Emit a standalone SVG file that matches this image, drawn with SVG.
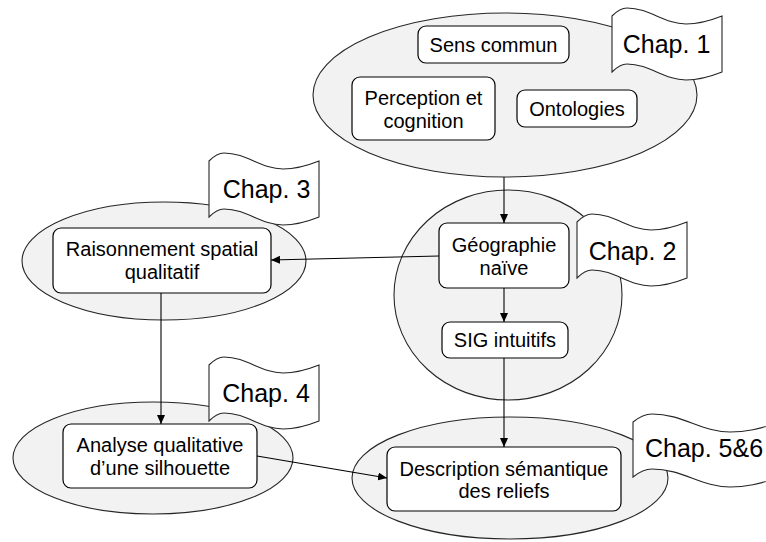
<svg xmlns="http://www.w3.org/2000/svg" width="766" height="542" viewBox="0 0 766 542">
<defs>
<style>
.cluster{fill:#f2f2f2;stroke:#262626;stroke-width:1.1}
.flag{fill:#fff;stroke:#262626;stroke-width:1.1}
.box{fill:#fff;stroke:#000;stroke-width:1.2}
.t{font-family:"Liberation Sans",Arial,sans-serif;font-size:20px;fill:#000;text-anchor:middle}
.ft{font-family:"Liberation Sans",Arial,sans-serif;font-size:25px;fill:#000;text-anchor:middle}
.edge{stroke:#000;stroke-width:1.1;fill:none;marker-end:url(#ah)}
</style>
<marker id="ah" markerWidth="10" markerHeight="8" refX="9" refY="4" orient="auto" markerUnits="userSpaceOnUse"><path d="M0,0 L9,4 L0,8 z" fill="#000"/></marker>
<path id="flag" d="M0,0 C4,-4 9,-8 15,-8 C38,-8 52,8 74,8 C88,8 100,4 110,0 L110,56 C100,60 88,64 74,64 C52,64 38,48 15,48 C9,48 4,52 0,56 Z"/>
<path id="flagWide" d="M0,0 C5,-4 11,-8 19,-8 C50,-8 68,10 97,10 C115,10 128,6 142,2 L142,57 C128,61 115,65 97,65 C68,65 50,47 19,47 C11,47 5,51 0,55 Z"/>
</defs>

<g id="chap1">
<ellipse class="cluster" cx="505" cy="95" rx="192" ry="82"/>
<use href="#flag" class="flag" x="612" y="16"/>
<text class="ft" x="666.5" y="53">Chap. 1</text>
</g>
<g id="chap2">
<ellipse class="cluster" cx="508" cy="295" rx="114" ry="105"/>
<use href="#flag" class="flag" x="577" y="222"/>
<text class="ft" x="632.5" y="260">Chap. 2</text>
</g>
<g id="chap3">
<ellipse class="cluster" cx="164" cy="261" rx="142" ry="59"/>
<use href="#flag" class="flag" x="209" y="161"/>
<text class="ft" x="266.5" y="198">Chap. 3</text>
</g>
<g id="chap4">
<ellipse class="cluster" cx="153" cy="458" rx="140" ry="56"/>
<use href="#flag" class="flag" x="209" y="365"/>
<text class="ft" x="266" y="402">Chap. 4</text>
</g>
<g id="chap56">
<ellipse class="cluster" cx="510" cy="478" rx="158" ry="61"/>
<use href="#flagWide" class="flag" x="633" y="422"/>
<text class="ft" x="704" y="457">Chap. 5&amp;6</text>
</g>

<g id="connectors">
<path class="edge" d="M504,177 L504,223"/>
<path class="edge" d="M504,288 L504,322"/>
<path class="edge" d="M504,358 L504,447"/>
<path class="edge" d="M439,256 L271,260"/>
<path class="edge" d="M161,293 L161,424"/>
<path class="edge" d="M257,456 L387,478"/>
</g>

<g id="sens-commun">
<rect class="box" x="418" y="26" width="151" height="37" rx="8"/>
<text class="t" x="493.5" y="51.5">Sens commun</text>
</g>
<g id="perception">
<rect class="box" x="352" y="77" width="143" height="63" rx="8"/>
<text class="t" x="423.5" y="104.5">Perception et</text>
<text class="t" x="423.5" y="127.5">cognition</text>
</g>
<g id="ontologies">
<rect class="box" x="517" y="90" width="120" height="37" rx="8"/>
<text class="t" x="577" y="115.5">Ontologies</text>
</g>
<g id="geographie">
<rect class="box" x="439" y="223" width="130" height="65" rx="8"/>
<text class="t" x="504" y="251.5">Géographie</text>
<text class="t" x="504" y="274.5">naïve</text>
</g>
<g id="sig">
<rect class="box" x="442" y="322" width="126" height="36" rx="8"/>
<text class="t" x="505" y="347">SIG intuitifs</text>
</g>
<g id="raisonnement">
<rect class="box" x="53" y="228" width="218" height="65" rx="8"/>
<text class="t" x="162" y="256">Raisonnement spatial</text>
<text class="t" x="162" y="279">qualitatif</text>
</g>
<g id="analyse">
<rect class="box" x="63" y="424" width="194" height="64" rx="8"/>
<text class="t" x="160" y="452">Analyse qualitative</text>
<text class="t" x="160" y="475">d’une silhouette</text>
</g>
<g id="description">
<rect class="box" x="387" y="447" width="234" height="64" rx="8"/>
<text class="t" x="504" y="476">Description sémantique</text>
<text class="t" x="504" y="498">des reliefs</text>
</g>
</svg>
